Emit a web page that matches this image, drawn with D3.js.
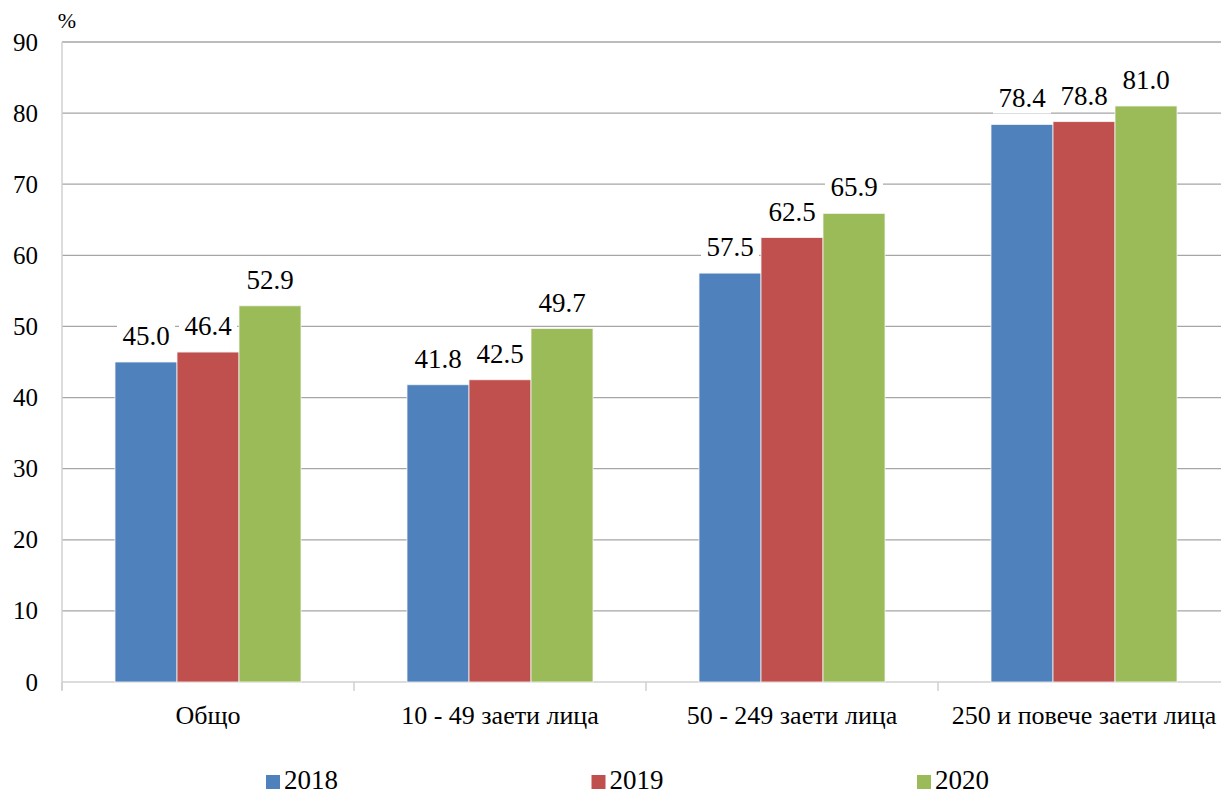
<!DOCTYPE html>
<html>
<head>
<meta charset="utf-8">
<script src="https://cdn.jsdelivr.net/npm/d3@7"></script>
<style>
    body { margin: 0; background: #fff; }
    svg text { font-family: Liberation Serif, Times New Roman, Times, DejaVu Serif, serif; }
</style>
</head>
<body>
<div id="chart"></div>
<script>
var categories = ['Общо', '10 - 49 заети лица', '50 - 249 заети лица', '250 и повече заети лица'];
var years = ['2018', '2019', '2020'];
var v2018 = [45.0, 41.8, 57.5, 78.4];
var v2019 = [46.4, 42.5, 62.5, 78.8];
var v2020 = [52.9, 49.7, 65.9, 81.0];
var y_ticks = [0, 10, 20, 30, 40, 50, 60, 70, 80, 90];
var colors = ['#4F81BD', '#C0504D', '#9BBB59'];

var series = [v2018, v2019, v2020];

// Create SVG Element
var chart_width = 1221;
var chart_height = 794;
var svg = d3.select('#chart')
    .append('svg')
    .attr('width', chart_width)
    .attr('height', chart_height);

var x_scale = d3.scaleBand()
    .domain(categories)
    .range([62, 1230]);

var x_inner = d3.scaleBand()
    .domain(years)
    .range([53, x_scale.bandwidth() - 53]);

var y_scale = d3.scaleLinear()
    .domain([0, 90])
    .range([682, 42]);

// gridlines
svg.selectAll('.grid')
    .data(y_ticks.slice(1))
    .enter()
    .append('line')
    .attr('x1', 62)
    .attr('x2', chart_width)
    .attr('y1', function (d) { return y_scale(d); })
    .attr('y2', function (d) { return y_scale(d); })
    .attr('stroke', '#a6a6a6')
    .attr('stroke-width', 1.3);

// axes lines
svg.append('line')
    .attr('x1', 62).attr('x2', 62)
    .attr('y1', y_scale(90)).attr('y2', 690)
    .attr('stroke', '#d0d0d0').attr('stroke-width', 1.5);
svg.append('line')
    .attr('x1', 62).attr('x2', chart_width)
    .attr('y1', y_scale(0)).attr('y2', y_scale(0))
    .attr('stroke', '#d0d0d0').attr('stroke-width', 1.5);
svg.selectAll('.xtick')
    .data(categories)
    .enter()
    .append('line')
    .attr('x1', function (d) { return x_scale(d); })
    .attr('x2', function (d) { return x_scale(d); })
    .attr('y1', y_scale(0)).attr('y2', 691)
    .attr('stroke', '#d0d0d0').attr('stroke-width', 1.5);

// y tick labels
svg.selectAll('.ylab')
    .data(y_ticks)
    .enter()
    .append('text')
    .attr('x', 38)
    .attr('y', function (d) { return y_scale(d); })
    .attr('dy', '0.34em')
    .attr('text-anchor', 'end')
    .attr('font-size', 25)
    .text(function (d) { return d; });

svg.append('text')
    .attr('x', 67)
    .attr('y', 28)
    .attr('text-anchor', 'middle')
    .attr('font-size', 22)
    .text('%');

// bars
var groups = svg.selectAll('.grp')
    .data(series)
    .enter()
    .append('g');

groups.selectAll('rect')
    .data(function (s, si) {
        return s.map(function (v, i) { return { cat: categories[i], year: years[si], v: v, si: si }; });
    })
    .enter()
    .append('rect')
    .attr('x', function (d) { return x_scale(d.cat) + x_inner(d.year); })
    .attr('y', function (d) { return y_scale(d.v); })
    .attr('width', x_inner.bandwidth())
    .attr('height', function (d) { return y_scale(0) - y_scale(d.v); })
    .attr('fill', function (d) { return colors[d.si]; })
    .attr('stroke', '#f4f4f4')
    .attr('stroke-width', 0.8);

// data labels
var fmt = d3.format('.1f');
var labels = groups.selectAll('.lbl')
    .data(function (s, si) {
        return s.map(function (v, i) { return { cat: categories[i], year: years[si], v: v }; });
    })
    .enter()
    .append('g')
    .attr('transform', function (d) {
        return 'translate(' + (x_scale(d.cat) + x_inner(d.year) + x_inner.bandwidth() / 2) + ',' + (y_scale(d.v) - 17) + ')';
    });

labels.append('rect')
    .attr('x', -29)
    .attr('y', -25)
    .attr('width', 58)
    .attr('height', 31)
    .attr('fill', '#fff');

labels.append('text')
    .attr('text-anchor', 'middle')
    .attr('font-size', 27)
    .text(function (d) { return fmt(d.v); });

// category labels
svg.selectAll('.cat')
    .data(categories)
    .enter()
    .append('text')
    .attr('x', function (d) { return x_scale(d) + x_scale.bandwidth() / 2; })
    .attr('y', 724)
    .attr('text-anchor', 'middle')
    .attr('font-size', 26)
    .text(function (d) { return d; });

// legend
var legend_x = d3.scalePoint()
    .domain(years)
    .range([266, 917]);

var legend = svg.selectAll('.leg')
    .data(years)
    .enter()
    .append('g')
    .attr('transform', function (d) { return 'translate(' + legend_x(d) + ',0)'; });

legend.append('rect')
    .attr('x', 0)
    .attr('y', 775)
    .attr('width', 14)
    .attr('height', 14)
    .attr('fill', function (d, i) { return colors[i]; });

legend.append('text')
    .attr('x', 18)
    .attr('y', 789)
    .attr('font-size', 27)
    .text(function (d) { return d; });
</script>
</body>
</html>
